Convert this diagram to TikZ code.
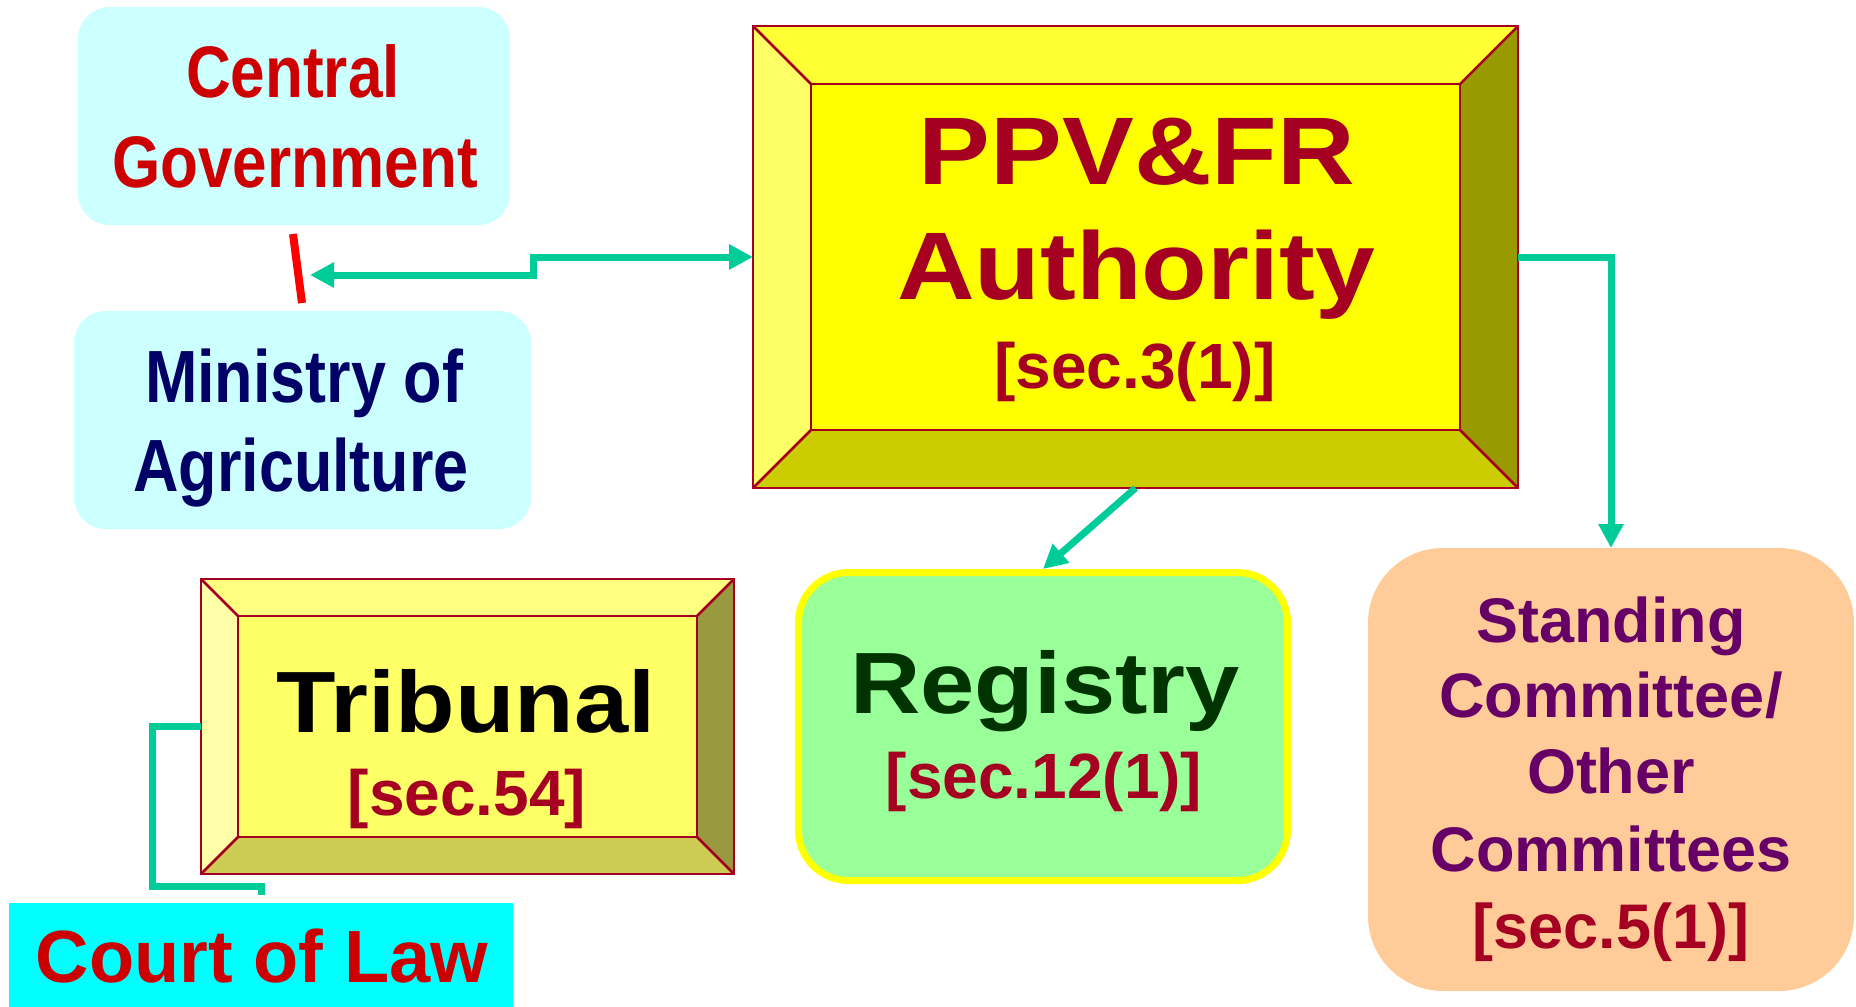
\documentclass[tikz,border=0pt]{standalone}
\usepackage{fontspec}
\setmainfont{Liberation Sans}
\newfontfamily\fnarrow{Liberation Sans}[FakeStretch=0.85]
\newfontfamily\fwide{Liberation Sans}[FakeStretch=1.12]
\newfontfamily\fnorm{Liberation Sans}
\usetikzlibrary{arrows.meta,calc}
\definecolor{cgreen}{HTML}{00CC99}
\definecolor{cyanlt}{HTML}{CCFFFF}
\definecolor{courtfill}{HTML}{00FFFF}
\definecolor{redtxt}{HTML}{CC0000}
\definecolor{navytxt}{HTML}{000066}
\definecolor{crimson}{HTML}{A50021}
\definecolor{regfill}{HTML}{99FF99}
\definecolor{regline}{HTML}{FFFF00}
\definecolor{regtxt}{HTML}{003300}
\definecolor{stcfill}{HTML}{FFCC99}
\definecolor{stctxt}{HTML}{660066}
\definecolor{ppvT}{HTML}{FFFF33}
\definecolor{ppvL}{HTML}{FFFF66}
\definecolor{ppvR}{HTML}{999900}
\definecolor{ppvB}{HTML}{CCCC00}
\definecolor{ppvI}{HTML}{FFFF00}
\definecolor{trT}{HTML}{FFFF80}
\definecolor{trL}{HTML}{FFFFAA}
\definecolor{trR}{HTML}{999940}
\definecolor{trB}{HTML}{CCCC55}
\definecolor{trI}{HTML}{FFFF66}
\newcommand\drawbevel[6]{%
  \fill[#6T] (#1,#2) -- (#3,#2) -- (#3-#5,#2+#5) -- (#1+#5,#2+#5) -- cycle;
  \fill[#6L] (#1,#2) -- (#1+#5,#2+#5) -- (#1+#5,#4-#5) -- (#1,#4) -- cycle;
  \fill[#6R] (#3,#2) -- (#3,#4) -- (#3-#5,#4-#5) -- (#3-#5,#2+#5) -- cycle;
  \fill[#6B] (#1,#4) -- (#1+#5,#4-#5) -- (#3-#5,#4-#5) -- (#3,#4) -- cycle;
  \fill[#6I] (#1+#5,#2+#5) rectangle (#3-#5,#4-#5);
  \draw[bevline] (#1,#2) rectangle (#3,#4);
  \draw[bevline] (#1+#5,#2+#5) rectangle (#3-#5,#4-#5);
  \draw[bevline] (#1,#2) -- (#1+#5,#2+#5) (#3,#2) -- (#3-#5,#2+#5)
                 (#1,#4) -- (#1+#5,#4-#5) (#3,#4) -- (#3-#5,#4-#5);
}
\begin{document}
\begin{tikzpicture}[x=1pt,y=-1pt,
  >={Triangle[length=24pt,width=24pt]},
  txt/.style={inner sep=0pt, outer sep=0pt, anchor=base},
  bevline/.style={draw=crimson, line width=2.5pt, line join=miter},
  garrow/.style={draw=cgreen, line width=7pt, line join=miter},
  cgbox/.style={fill=cyanlt, rounded corners=32pt, inner sep=0pt, outer sep=0pt},
  area/.style={inner sep=0pt, outer sep=0pt},
  narrowtxt/.style={txt, font=\fnarrow\bfseries\fontsize{73}{80}\selectfont},
  widetxt/.style={txt, font=\fwide\bfseries\fontsize{96}{100}\selectfont},
  sectxt/.style={txt, text=crimson, font=\fnorm\bfseries\fontsize{64}{70}\selectfont},
  stctext/.style={txt, text=stctxt, font=\fnorm\bfseries\fontsize{63}{70}\selectfont}]
\useasboundingbox (0,0) rectangle (1856,1007);

% Central Government & Ministry
\node[cgbox, minimum width=432pt, minimum height=218pt] (cg) at (294,116) {};
\node[cgbox, minimum width=457pt, minimum height=218pt] (min) at (302.5,420) {};
\node[narrowtxt, text=redtxt] (cg1) at (293,97) {Central};
\node[narrowtxt, text=redtxt] (cg2) at (295,187) {Government};
\node[narrowtxt, text=navytxt, font=\fnarrow\bfseries\fontsize{74}{80}\selectfont] (min1) at (304,402) {Ministry of};
\node[narrowtxt, text=navytxt, font=\fnarrow\bfseries\fontsize{74}{80}\selectfont] (min2) at (301,491) {Agriculture};

% red link
\coordinate (redtop) at (293,234);
\coordinate (redbot) at (302,303);
\draw[draw=red, line width=8pt] (redtop) -- (redbot);

% PPV&FR Authority
\drawbevel{753}{26}{1518}{488}{58}{ppv}
\node[area, minimum width=765pt, minimum height=462pt] (ppv) at (1135.5,257) {};
\node[widetxt, text=crimson] (ppv1) at (1137,184) {PPV\&FR};
\node[widetxt, text=crimson] (ppv2) at (1136,299) {Authority};
\node[sectxt] (ppv3) at (1135,388) {[sec.3(1)]};

% Tribunal
\drawbevel{201}{579}{734}{874}{37}{tr}
\node[area, minimum width=533pt, minimum height=295pt] (trib) at (467.5,726.5) {};
\node[widetxt, text=black, font=\fwide\bfseries\fontsize{87}{90}\selectfont] (trib1) at (466,732) {Tribunal};
\node[sectxt] (trib2) at (467,815) {[sec.54]};

% Registry
\node[draw=regline, line width=7pt, fill=regfill, rounded corners=50pt,
      minimum width=489pt, minimum height=308pt, inner sep=0pt] (reg) at (1043,726.5) {};
\node[widetxt, text=regtxt, font=\fwide\bfseries\fontsize{87}{90}\selectfont] (reg1) at (1045,713) {Registry};
\node[sectxt] (reg2) at (1044,798) {[sec.12(1)]};

% Standing Committee
\node[fill=stcfill, rounded corners=75pt, minimum width=486pt, minimum height=443pt,
      inner sep=0pt, outer sep=0pt] (stc) at (1611,769.5) {};
\node[stctext] (stc1) at (1611,642) {Standing};
\node[stctext] (stc2) at (1611,717) {Committee/};
\node[stctext] (stc3) at (1611,793) {Other};
\node[stctext] (stc4) at (1611,871) {Committees};
\node[sectxt, font=\fnorm\bfseries\fontsize{63}{70}\selectfont] (stc5) at (1611,948) {[sec.5(1)]};

% Court of Law
\node[fill=courtfill, minimum width=504pt, minimum height=104pt, inner sep=0pt, outer sep=0pt] (court) at (261,955) {};
\node[txt, text=redtxt, font=\fnorm\bfseries\fontsize{74}{80}\selectfont] (court1) at (262,982) {Court of Law};

% connectors
\coordinate (cgtip) at (310,275);
\draw[garrow, <->] (cgtip) -- (533,275) -- (533,257) -- (ppv.west);
\draw[garrow, ->] (ppv.east) -| (stc.north);
\draw[garrow, ->] (ppv.south) -- (reg.north);
\coordinate (courtend) at ($(court.north)+(0,-8)$);
\draw[garrow] (trib.west) -- ++(-49,0) |- ($(court.north)+(0,-17)$) -- (courtend);
\end{tikzpicture}
\end{document}
